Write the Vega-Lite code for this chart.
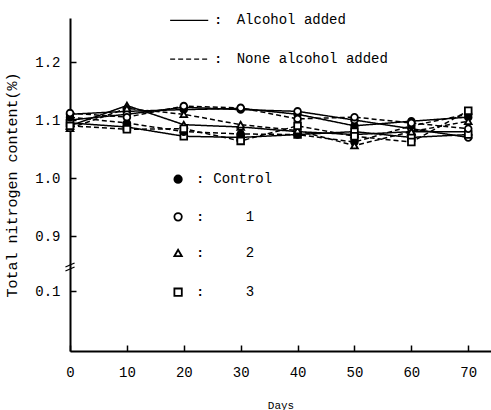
{
  "$schema": "https://vega.github.io/schema/vega-lite/v6.json",
  "width": 421,
  "height": 333,
  "autosize": {"type": "none"},
  "padding": {"left": 70, "top": 18, "right": 0, "bottom": 59},
  "background": "white",
  "config": {
    "view": {"stroke": null},
    "font": "Liberation Mono",
    "axis": {"labelFont": "Liberation Mono", "titleFont": "Liberation Mono", "grid": false, "domainColor": "black", "domainWidth": 2, "tickColor": "black", "tickWidth": 1.5, "labelColor": "black", "titleColor": "black", "titleFontWeight": "normal"}
  },
  "datasets": {
    "series": [
      {"day": 0, "value": 1.110, "treatment": "Control", "condition": "Alcohol added", "group": "CA"},
      {"day": 10, "value": 1.115, "treatment": "Control", "condition": "Alcohol added", "group": "CA"},
      {"day": 20, "value": 1.118, "treatment": "Control", "condition": "Alcohol added", "group": "CA"},
      {"day": 30, "value": 1.120, "treatment": "Control", "condition": "Alcohol added", "group": "CA"},
      {"day": 40, "value": 1.110, "treatment": "Control", "condition": "Alcohol added", "group": "CA"},
      {"day": 50, "value": 1.090, "treatment": "Control", "condition": "Alcohol added", "group": "CA"},
      {"day": 60, "value": 1.098, "treatment": "Control", "condition": "Alcohol added", "group": "CA"},
      {"day": 70, "value": 1.105, "treatment": "Control", "condition": "Alcohol added", "group": "CA"},
      {"day": 0, "value": 1.100, "treatment": "1", "condition": "Alcohol added", "group": "1A"},
      {"day": 10, "value": 1.110, "treatment": "1", "condition": "Alcohol added", "group": "1A"},
      {"day": 20, "value": 1.122, "treatment": "1", "condition": "Alcohol added", "group": "1A"},
      {"day": 30, "value": 1.118, "treatment": "1", "condition": "Alcohol added", "group": "1A"},
      {"day": 40, "value": 1.115, "treatment": "1", "condition": "Alcohol added", "group": "1A"},
      {"day": 50, "value": 1.100, "treatment": "1", "condition": "Alcohol added", "group": "1A"},
      {"day": 60, "value": 1.085, "treatment": "1", "condition": "Alcohol added", "group": "1A"},
      {"day": 70, "value": 1.070, "treatment": "1", "condition": "Alcohol added", "group": "1A"},
      {"day": 0, "value": 1.090, "treatment": "2", "condition": "Alcohol added", "group": "2A"},
      {"day": 10, "value": 1.125, "treatment": "2", "condition": "Alcohol added", "group": "2A"},
      {"day": 20, "value": 1.092, "treatment": "2", "condition": "Alcohol added", "group": "2A"},
      {"day": 30, "value": 1.088, "treatment": "2", "condition": "Alcohol added", "group": "2A"},
      {"day": 40, "value": 1.080, "treatment": "2", "condition": "Alcohol added", "group": "2A"},
      {"day": 50, "value": 1.075, "treatment": "2", "condition": "Alcohol added", "group": "2A"},
      {"day": 60, "value": 1.080, "treatment": "2", "condition": "Alcohol added", "group": "2A"},
      {"day": 70, "value": 1.080, "treatment": "2", "condition": "Alcohol added", "group": "2A"},
      {"day": 0, "value": 1.095, "treatment": "3", "condition": "Alcohol added", "group": "3A"},
      {"day": 10, "value": 1.088, "treatment": "3", "condition": "Alcohol added", "group": "3A"},
      {"day": 20, "value": 1.072, "treatment": "3", "condition": "Alcohol added", "group": "3A"},
      {"day": 30, "value": 1.070, "treatment": "3", "condition": "Alcohol added", "group": "3A"},
      {"day": 40, "value": 1.075, "treatment": "3", "condition": "Alcohol added", "group": "3A"},
      {"day": 50, "value": 1.080, "treatment": "3", "condition": "Alcohol added", "group": "3A"},
      {"day": 60, "value": 1.070, "treatment": "3", "condition": "Alcohol added", "group": "3A"},
      {"day": 70, "value": 1.075, "treatment": "3", "condition": "Alcohol added", "group": "3A"},
      {"day": 0, "value": 1.105, "treatment": "Control", "condition": "None alcohol added", "group": "CN"},
      {"day": 10, "value": 1.095, "treatment": "Control", "condition": "None alcohol added", "group": "CN"},
      {"day": 20, "value": 1.080, "treatment": "Control", "condition": "None alcohol added", "group": "CN"},
      {"day": 30, "value": 1.076, "treatment": "Control", "condition": "None alcohol added", "group": "CN"},
      {"day": 40, "value": 1.075, "treatment": "Control", "condition": "None alcohol added", "group": "CN"},
      {"day": 50, "value": 1.062, "treatment": "Control", "condition": "None alcohol added", "group": "CN"},
      {"day": 60, "value": 1.090, "treatment": "Control", "condition": "None alcohol added", "group": "CN"},
      {"day": 70, "value": 1.110, "treatment": "Control", "condition": "None alcohol added", "group": "CN"},
      {"day": 0, "value": 1.112, "treatment": "1", "condition": "None alcohol added", "group": "1N"},
      {"day": 10, "value": 1.105, "treatment": "1", "condition": "None alcohol added", "group": "1N"},
      {"day": 20, "value": 1.124, "treatment": "1", "condition": "None alcohol added", "group": "1N"},
      {"day": 30, "value": 1.121, "treatment": "1", "condition": "None alcohol added", "group": "1N"},
      {"day": 40, "value": 1.102, "treatment": "1", "condition": "None alcohol added", "group": "1N"},
      {"day": 50, "value": 1.105, "treatment": "1", "condition": "None alcohol added", "group": "1N"},
      {"day": 60, "value": 1.095, "treatment": "1", "condition": "None alcohol added", "group": "1N"},
      {"day": 70, "value": 1.085, "treatment": "1", "condition": "None alcohol added", "group": "1N"},
      {"day": 0, "value": 1.086, "treatment": "2", "condition": "None alcohol added", "group": "2N"},
      {"day": 10, "value": 1.120, "treatment": "2", "condition": "None alcohol added", "group": "2N"},
      {"day": 20, "value": 1.110, "treatment": "2", "condition": "None alcohol added", "group": "2N"},
      {"day": 30, "value": 1.092, "treatment": "2", "condition": "None alcohol added", "group": "2N"},
      {"day": 40, "value": 1.082, "treatment": "2", "condition": "None alcohol added", "group": "2N"},
      {"day": 50, "value": 1.056, "treatment": "2", "condition": "None alcohol added", "group": "2N"},
      {"day": 60, "value": 1.080, "treatment": "2", "condition": "None alcohol added", "group": "2N"},
      {"day": 70, "value": 1.098, "treatment": "2", "condition": "None alcohol added", "group": "2N"},
      {"day": 0, "value": 1.090, "treatment": "3", "condition": "None alcohol added", "group": "3N"},
      {"day": 10, "value": 1.084, "treatment": "3", "condition": "None alcohol added", "group": "3N"},
      {"day": 20, "value": 1.085, "treatment": "3", "condition": "None alcohol added", "group": "3N"},
      {"day": 30, "value": 1.064, "treatment": "3", "condition": "None alcohol added", "group": "3N"},
      {"day": 40, "value": 1.090, "treatment": "3", "condition": "None alcohol added", "group": "3N"},
      {"day": 50, "value": 1.072, "treatment": "3", "condition": "None alcohol added", "group": "3N"},
      {"day": 60, "value": 1.062, "treatment": "3", "condition": "None alcohol added", "group": "3N"},
      {"day": 70, "value": 1.116, "treatment": "3", "condition": "None alcohol added", "group": "3N"}
    ],
    "lineLegend": [
      {"x": 17.6, "x2": 24.3, "y": 1.272, "condition": "Alcohol added", "tx": 29.3},
      {"x": 17.6, "x2": 24.3, "y": 1.205, "condition": "None alcohol added", "tx": 29.3}
    ],
    "symLegend": [
      {"x": 19.0, "y": 0.998, "treatment": "Control", "label": "Control", "tx": 25.2},
      {"x": 19.0, "y": 0.933, "treatment": "1", "label": "1", "tx": 30.9},
      {"x": 19.0, "y": 0.653, "treatment": "2", "label": "2", "tx": 30.9},
      {"x": 19.0, "y": 0.098, "treatment": "3", "label": "3", "tx": 30.9}
    ],
    "breaks": [
      {"x": -0.8, "x2": 0.8, "y": 0.449, "y2": 0.507},
      {"x": -0.8, "x2": 0.8, "y": 0.391, "y2": 0.449}
    ]
  },
  "layer": [
    {
      "data": {"name": "series"},
      "mark": {"type": "line", "color": "black", "strokeWidth": 1.5},
      "encoding": {
        "x": {"field": "day", "type": "quantitative", "scale": {"domain": [0, 74], "nice": false, "zero": false},
              "axis": {"values": [0, 10, 20, 30, 40, 50, 60, 70], "title": "Days", "titleFontSize": 11, "titlePadding": 20, "labelFontSize": 14, "labelPadding": 20, "tickSize": -6, "labelFlush": false}},
        "y": {"field": "value", "type": "quantitative",
              "scale": {"domain": [0, 0.1, 0.9, 1.276], "range": [333, 273, 218, 0], "nice": false, "zero": false},
              "axis": {"values": [0.1, 0.9, 1.0, 1.1, 1.2], "format": ".1f", "title": "Total nitrogen content(%)", "titleFontSize": 15, "titlePadding": 15, "labelFontSize": 14, "labelPadding": 16, "tickSize": -6}},
        "detail": {"field": "group"},
        "strokeDash": {"field": "condition", "type": "nominal", "scale": {"domain": ["Alcohol added", "None alcohol added"], "range": [[1, 0], [5, 3]]}, "legend": null}
      }
    },
    {
      "data": {"name": "series"},
      "mark": {"type": "point", "filled": true, "stroke": "black", "strokeWidth": 1.8, "size": 45, "opacity": 1},
      "encoding": {
        "x": {"field": "day", "type": "quantitative"},
        "y": {"field": "value", "type": "quantitative"},
        "shape": {"field": "treatment", "type": "nominal", "scale": {"domain": ["Control", "1", "2", "3"], "range": ["circle", "circle", "triangle-up", "square"]}, "legend": null},
        "fill": {"field": "treatment", "type": "nominal", "scale": {"domain": ["Control", "1", "2", "3"], "range": ["black", "white", "white", "white"]}, "legend": null}
      }
    },
    {
      "data": {"name": "lineLegend"},
      "mark": {"type": "rule", "color": "black", "strokeWidth": 1.3},
      "encoding": {
        "x": {"field": "x", "type": "quantitative"},
        "x2": {"field": "x2"},
        "y": {"field": "y", "type": "quantitative"},
        "strokeDash": {"field": "condition", "type": "nominal", "legend": null}
      }
    },
    {
      "data": {"name": "lineLegend"},
      "mark": {"type": "text", "align": "left", "baseline": "middle", "fontSize": 14, "color": "black", "font": "Liberation Mono"},
      "encoding": {
        "x": {"field": "tx", "type": "quantitative"},
        "y": {"field": "y", "type": "quantitative"},
        "text": {"field": "condition"}
      }
    },
    {
      "data": {"name": "lineLegend"},
      "mark": {"type": "text", "align": "center", "baseline": "middle", "fontSize": 13, "fontWeight": "bold", "color": "black", "text": ":", "dx": 10},
      "encoding": {
        "x": {"field": "x2", "type": "quantitative"},
        "y": {"field": "y", "type": "quantitative"}
      }
    },
    {
      "data": {"name": "symLegend"},
      "mark": {"type": "point", "filled": true, "stroke": "black", "strokeWidth": 1.8, "size": 55, "opacity": 1},
      "encoding": {
        "x": {"field": "x", "type": "quantitative"},
        "y": {"field": "y", "type": "quantitative"},
        "shape": {"field": "treatment", "type": "nominal", "legend": null},
        "fill": {"field": "treatment", "type": "nominal", "legend": null}
      }
    },
    {
      "data": {"name": "symLegend"},
      "mark": {"type": "text", "align": "center", "baseline": "middle", "fontSize": 13, "fontWeight": "bold", "color": "black", "text": ":", "dx": 22},
      "encoding": {
        "x": {"field": "x", "type": "quantitative"},
        "y": {"field": "y", "type": "quantitative"}
      }
    },
    {
      "data": {"name": "symLegend"},
      "mark": {"type": "text", "align": "left", "baseline": "middle", "fontSize": 14, "color": "black"},
      "encoding": {
        "x": {"field": "tx", "type": "quantitative"},
        "y": {"field": "y", "type": "quantitative"},
        "text": {"field": "label"}
      }
    },
    {
      "data": {"name": "breaks"},
      "mark": {"type": "rule", "color": "black", "strokeWidth": 1.3},
      "encoding": {
        "x": {"field": "x", "type": "quantitative"},
        "x2": {"field": "x2"},
        "y": {"field": "y", "type": "quantitative"},
        "y2": {"field": "y2"}
      }
    }
  ]
}
